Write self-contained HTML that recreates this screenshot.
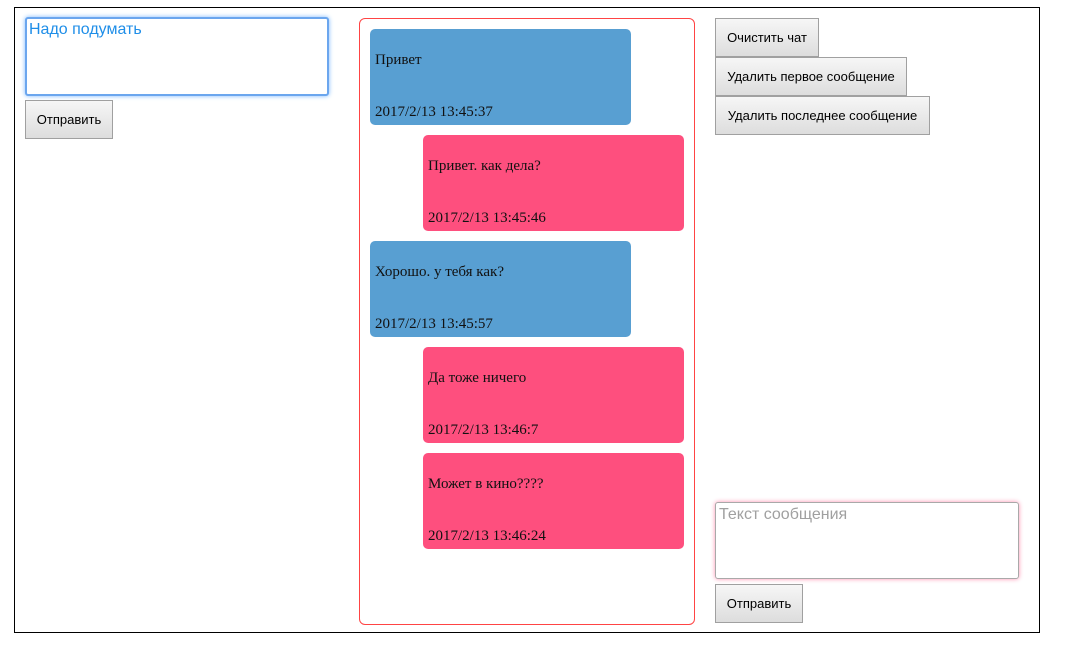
<!DOCTYPE html>
<html><head><meta charset="utf-8"><style>
body{margin:0;width:1070px;height:650px;background:#fff;position:relative;overflow:hidden;font-family:"Liberation Sans",sans-serif}
div,button,textarea{position:absolute;box-sizing:border-box}
.outer{left:14px;top:7px;width:1026px;height:626px;border:1px solid #000}
.ta{background:#fff;border:1px solid #a9a9a9;border-radius:3px;font-size:16px;padding:2px 3px;line-height:20px}
.btn{border:1px solid #a0a0a0;background:linear-gradient(#f6f6f6,#dddddd);font-size:13px;color:#000;font-family:"Liberation Sans",sans-serif;display:flex;align-items:center;justify-content:center;padding:0}
.chat{left:359px;top:18px;width:336px;height:607px;border:1px solid #f44;border-radius:6px}
.m{width:261px;height:96px;border-radius:5px;font-family:"Liberation Serif",serif;font-size:15px;color:#111}
.b{left:370px;background:#589fd2}
.p{left:423px;background:#fe4f7e}
.m span{position:absolute;left:5px}
.t1{top:23px}.t2{top:75px}
</style></head><body>
<div class="outer"></div>
<div class="ta" style="left:25px;top:17px;width:304px;height:79px;border:2px solid #6ba6ee;padding:1px 2px;box-shadow:0 0 5px #7ab8ff;color:#1f8ee8">Надо подумать</div>
<div class="btn" style="left:25px;top:100px;width:88px;height:39px">Отправить</div>
<div class="chat"></div>
<div class="m b" style="top:29px"><span class="t1">Привет</span><span class="t2">2017/2/13 13:45:37</span></div>
<div class="m p" style="top:135px"><span class="t1">Привет. как дела?</span><span class="t2">2017/2/13 13:45:46</span></div>
<div class="m b" style="top:241px"><span class="t1">Хорошо. у тебя как?</span><span class="t2">2017/2/13 13:45:57</span></div>
<div class="m p" style="top:347px"><span class="t1">Да тоже ничего</span><span class="t2">2017/2/13 13:46:7</span></div>
<div class="m p" style="top:453px"><span class="t1">Может в кино????</span><span class="t2">2017/2/13 13:46:24</span></div>
<div class="btn" style="left:715px;top:18px;width:104px;height:39px">Очистить чат</div>
<div class="btn" style="left:715px;top:57px;width:192px;height:39px">Удалить первое сообщение</div>
<div class="btn" style="left:715px;top:96px;width:215px;height:39px">Удалить последнее сообщение</div>
<div class="ta" style="left:715px;top:502px;width:304px;height:77px;box-shadow:0 0 5px #ff8fb0;color:#a0a0a0">Текст сообщения</div>
<div class="btn" style="left:715px;top:584px;width:88px;height:39px">Отправить</div>
</body></html>
